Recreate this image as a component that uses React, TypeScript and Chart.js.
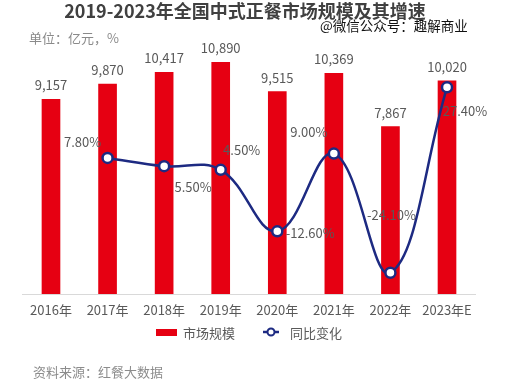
import React, { useEffect, useRef } from "react";
import { Chart, registerables } from "chart.js";

Chart.register(...registerables);

const categories = ["2016年", "2017年", "2018年", "2019年", "2020年", "2021年", "2022年", "2023年E"];
const marketSize = [9157, 9870, 10417, 10890, 9515, 10369, 7867, 10020];
const yoyGrowth: (number | null)[] = [null, 7.8, 5.5, 4.5, -12.6, 9.0, -24.1, 27.4];
const sizeAxisRange = [0, 11000];
const growthAxisRange = [-30, 35];

// label placement (offset from the point, in px) – styling only
const growthLabelOffsets = [
  [0, 0],
  [-25, -16],
  [29, 21],
  [21, -20],
  [33, 2],
  [-25, -22],
  [1, -58],
  [18, 24],
];

const FONT = '"Noto Sans CJK SC", "Noto Sans", sans-serif';
const RED = "#E60012";
const NAVY = "#1D2A82";

const labelPlugin = {
  id: "valueLabels",
  afterDatasetsDraw(chart: any) {
    const ctx = chart.ctx;
    ctx.save();
    ctx.font = `13px ${FONT}`;
    ctx.fillStyle = "#595959";
    ctx.textAlign = "center";
    ctx.textBaseline = "middle";
    const barMeta = chart.getDatasetMeta(0);
    barMeta.data.forEach((el: any, i: number) => {
      ctx.fillText(marketSize[i].toLocaleString("en-US"), el.x, el.y - 14);
    });
    const lineMeta = chart.getDatasetMeta(1);
    lineMeta.data.forEach((el: any, i: number) => {
      const v = yoyGrowth[i];
      if (v == null) return;
      const [dx, dy] = growthLabelOffsets[i];
      ctx.fillText(v.toFixed(2) + "%", el.x + dx, el.y + dy);
    });
    ctx.restore();
  },
};

export default function App() {
  const ref = useRef<HTMLCanvasElement>(null);
  useEffect(() => {
    if (!ref.current) return;
    const chart = new Chart(ref.current, {
      type: "bar",
      data: {
        labels: categories,
        datasets: [
          {
            type: "bar",
            label: "市场规模",
            data: marketSize,
            backgroundColor: RED,
            barThickness: 18,
            yAxisID: "y",
            order: 2,
          },
          {
            type: "line",
            label: "同比变化",
            data: yoyGrowth,
            borderColor: NAVY,
            borderWidth: 2.5,
            tension: 0.4,
            pointRadius: 5,
            pointBorderWidth: 2.5,
            pointBackgroundColor: "#ffffff",
            pointBorderColor: NAVY,
            yAxisID: "y1",
            order: 1,
          } as any,
        ],
      },
      options: {
        responsive: false,
        animation: false,
        devicePixelRatio: 1,
        layout: { padding: { top: 60, bottom: 65.4, left: 22.7, right: 35.7 } },
        plugins: {
          legend: { display: false },
          title: { display: false },
          tooltip: { enabled: false },
        },
        scales: {
          x: {
            grid: { display: false, drawTicks: false },
            border: { display: true, color: "#d9d9d9", width: 1 },
            ticks: { color: "#595959", font: { family: FONT, size: 13 }, padding: 8 },
          },
          y: {
            display: false,
            min: sizeAxisRange[0],
            max: sizeAxisRange[1],
          },
          y1: {
            display: false,
            min: growthAxisRange[0],
            max: growthAxisRange[1],
          },
        },
      },
      plugins: [labelPlugin],
    });
    return () => chart.destroy();
  }, []);

  return (
    <div
      style={{
        position: "absolute",
        left: 0,
        top: 0,
        width: 511,
        height: 391,
        background: "#ffffff",
        fontFamily: FONT,
        overflow: "hidden",
      }}
    >
      <canvas ref={ref} width={511} height={391} style={{ position: "absolute", left: 0, top: 0, width: 511, height: 391 }} />
      <div
        style={{
          position: "absolute",
          left: 0,
          top: 0,
          width: 490,
          textAlign: "center",
          fontSize: 18,
          fontWeight: 700,
          lineHeight: "21px",
          color: "#404040",
          whiteSpace: "nowrap",
        }}
      >
        2019-2023年全国中式正餐市场规模及其增速
      </div>
      <div
        style={{
          position: "absolute",
          left: 320,
          top: 15,
          fontSize: 13.5,
          lineHeight: "20px",
          color: "#111111",
          whiteSpace: "nowrap",
        }}
      >
        @微信公众号：趣解商业
      </div>
      <div
        style={{
          position: "absolute",
          left: 29,
          top: 28,
          fontSize: 13,
          lineHeight: "19px",
          color: "#8a8a8a",
          whiteSpace: "nowrap",
        }}
      >
        单位：亿元，%
      </div>
      <div
        style={{
          position: "absolute",
          left: 156,
          top: 322,
          height: 20,
          display: "flex",
          alignItems: "center",
          fontSize: 13,
          color: "#595959",
          whiteSpace: "nowrap",
        }}
      >
        <span style={{ display: "inline-block", width: 21, height: 7, background: RED, marginRight: 6 }} />
        <span>市场规模</span>
        <svg width={16} height={12} style={{ marginLeft: 28, marginRight: 11 }}>
          <line x1={0} y1={6} x2={16} y2={6} stroke={NAVY} strokeWidth={2.5} />
          <circle cx={8} cy={6} r={3.5} fill="#ffffff" stroke={NAVY} strokeWidth={2} />
        </svg>
        <span>同比变化</span>
      </div>
      <div
        style={{
          position: "absolute",
          left: 33,
          top: 362,
          fontSize: 13,
          lineHeight: "20px",
          color: "#8c8c8c",
          whiteSpace: "nowrap",
        }}
      >
        资料来源：红餐大数据
      </div>
    </div>
  );
}
